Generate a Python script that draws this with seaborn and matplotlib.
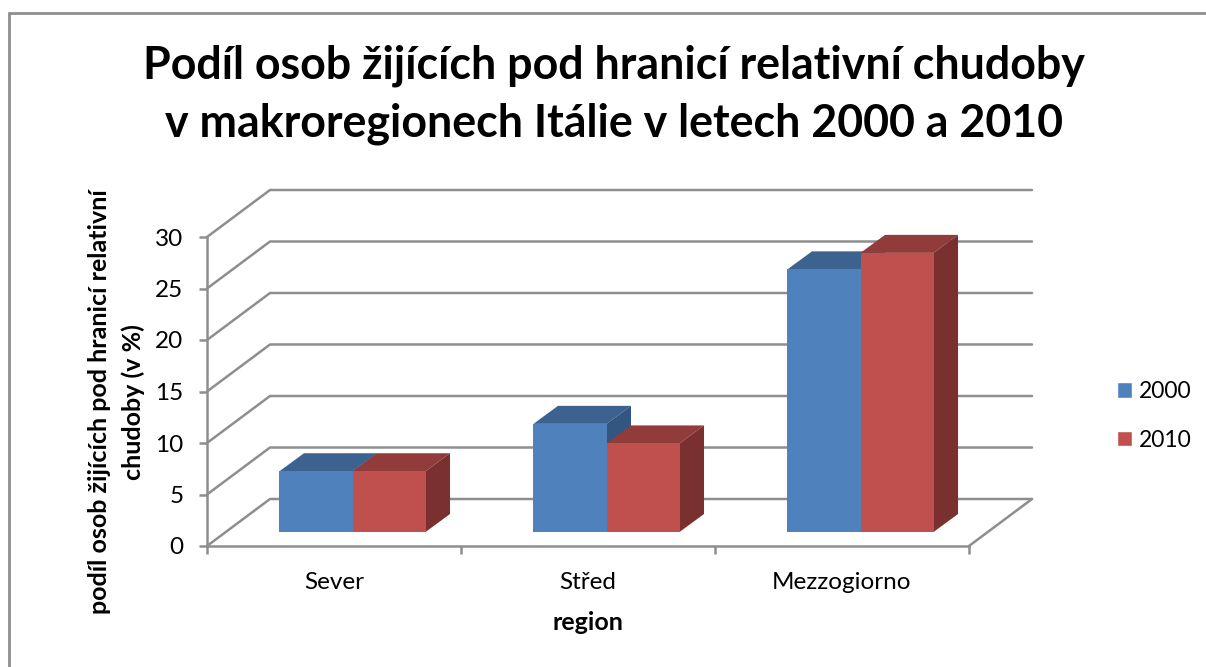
import pandas as pd
import seaborn as sns
from matplotlib import pyplot as plt
from matplotlib.lines import Line2D
from matplotlib.patches import Polygon
from matplotlib.transforms import Affine2D, IdentityTransform

regions = ['Sever', 'Střed', 'Mezzogiorno']
years = ['2000', '2010']
values_2000 = [5.9, 10.5, 25.5]
values_2010 = [5.9, 8.6, 27.1]
y_ticks = [0, 5, 10, 15, 20, 25, 30]

title = 'Podíl osob žijících pod hranicí relativní chudoby\nv makroregionech Itálie v letech 2000 a 2010'
y_title = 'podíl osob žijících pod hranicí relativní\nchudoby (v %)'
x_title = 'region'

front_colors = {'2000': '#4F81BD', '2010': '#C0504D'}
top_colors = {'2000': '#3C6290', '2010': '#913C3A'}
side_colors = {'2000': '#325680', '2010': '#7A302E'}
line_color = '#8E8E8E'

W, H = 1206, 667
# depth of the 3d box and of the bars, in pixels
wall_dx, wall_dy = 63, 47
bar_dx, bar_dy = 18.5, 14
depth_dx, depth_dy = 24.5, 18

sns.set_theme(style='white')
plt.rcParams['font.family'] = ['Lato', 'DejaVu Sans']

df = pd.DataFrame({
    'region': regions * 2,
    'year': [years[0]] * 3 + [years[1]] * 3,
    'value': values_2000 + values_2010,
})

fig = plt.figure(figsize=(W / 100, H / 100), dpi=100)
ax = fig.add_axes([207 / W, (H - 546) / H, 762 / W, 309 / H])
sns.barplot(data=df, x='region', y='value', hue='year', order=regions, hue_order=years,
            palette=front_colors, width=0.575, gap=0, saturation=1, ax=ax)
ax.set_xlim(-0.5, 2.5)
ax.set_ylim(0, 30)
ax.set_yticks(y_ticks)
ax.set_xticks([-0.5, 0.5, 1.5, 2.5], minor=True)
ax.tick_params(axis='x', which='major', length=0, labelsize=17.5, pad=19, labelcolor='black')
ax.tick_params(axis='x', which='minor', length=6, width=1.8, color=line_color, bottom=True)
ax.tick_params(axis='y', length=6, width=1.8, color=line_color, labelsize=17.5, pad=11,
               labelcolor='black', left=True)
ax.set_xlabel('')
ax.set_ylabel('')
sns.despine(ax=ax)
for side in ['left', 'bottom']:
    ax.spines[side].set_color(line_color)
    ax.spines[side].set_linewidth(1.8)

# walls and floor of the box
pixel = IdentityTransform()
fig.canvas.draw()
for tick in y_ticks:
    x0, y0 = ax.transData.transform((-0.5, tick))
    x1, _ = ax.transData.transform((2.5, tick))
    ax.add_line(Line2D([x0, x0 + wall_dx, x1 + wall_dx], [y0, y0 + wall_dy, y0 + wall_dy],
                       transform=pixel, color=line_color, lw=1.8, clip_on=False, zorder=1))
x1, y0 = ax.transData.transform((2.5, 0))
ax.add_line(Line2D([x1, x1 + wall_dx], [y0, y0 + wall_dy], transform=pixel,
                   color=line_color, lw=1.8, clip_on=False, zorder=1))

# front faces come from seaborn, shifted into the box; top and side are added to them
shift = Affine2D().translate(bar_dx, bar_dy)
for i, (year, bars) in enumerate(zip(years, ax.containers)):
    for bar in bars:
        (x0, y0), (x1, y1) = ax.transData.transform(
            [(bar.get_x(), 0), (bar.get_x() + bar.get_width(), bar.get_height())])
        x0, x1 = x0 + bar_dx, x1 + bar_dx
        y0, y1 = y0 + bar_dy, y1 + bar_dy
        top = [(x0, y1), (x1, y1), (x1 + depth_dx, y1 + depth_dy), (x0 + depth_dx, y1 + depth_dy)]
        side = [(x1, y0), (x1 + depth_dx, y0 + depth_dy), (x1 + depth_dx, y1 + depth_dy), (x1, y1)]
        ax.add_patch(Polygon(top, transform=pixel, color=top_colors[year], lw=0,
                             clip_on=False, zorder=3 + 2 * i))
        ax.add_patch(Polygon(side, transform=pixel, color=side_colors[year], lw=0,
                             clip_on=False, zorder=3 + 2 * i))
        bar.set_transform(ax.transData + shift)
        bar.set_clip_on(False)
        bar.set_linewidth(0)
        bar.set_zorder(4 + 2 * i)

handles, labels = ax.get_legend_handles_labels()
ax.legend(handles, labels, loc='center left', bbox_to_anchor=(1117 / W, (H - 416) / H),
          bbox_transform=fig.transFigure, frameon=False, fontsize=16.5, handlelength=0.66,
          handleheight=0.66, handletextpad=0.3, labelspacing=1.2, borderpad=0,
          borderaxespad=0, labelcolor='black')

fig.text(614 / W, (H - 94.5) / H, title, ha='center', va='center', fontsize=32.2,
         fontweight='bold', color='black', linespacing=1.46)
fig.text(116.5 / W, (H - 402) / H, y_title, ha='center', va='center', rotation=90, fontsize=18,
         fontweight='bold', color='black', linespacing=1.52, multialignment='center')
fig.text(588 / W, (H - 622) / H, x_title, ha='center', va='center', fontsize=18,
         fontweight='bold', color='black')

# frame of the chart area
fig.add_artist(Line2D([9 / W, 9 / W], [0, (H - 13) / H], color=line_color, lw=2))
fig.add_artist(Line2D([9 / W, 1], [(H - 13) / H, (H - 13) / H], color=line_color, lw=2))

fig.savefig('out.png', dpi=100)
